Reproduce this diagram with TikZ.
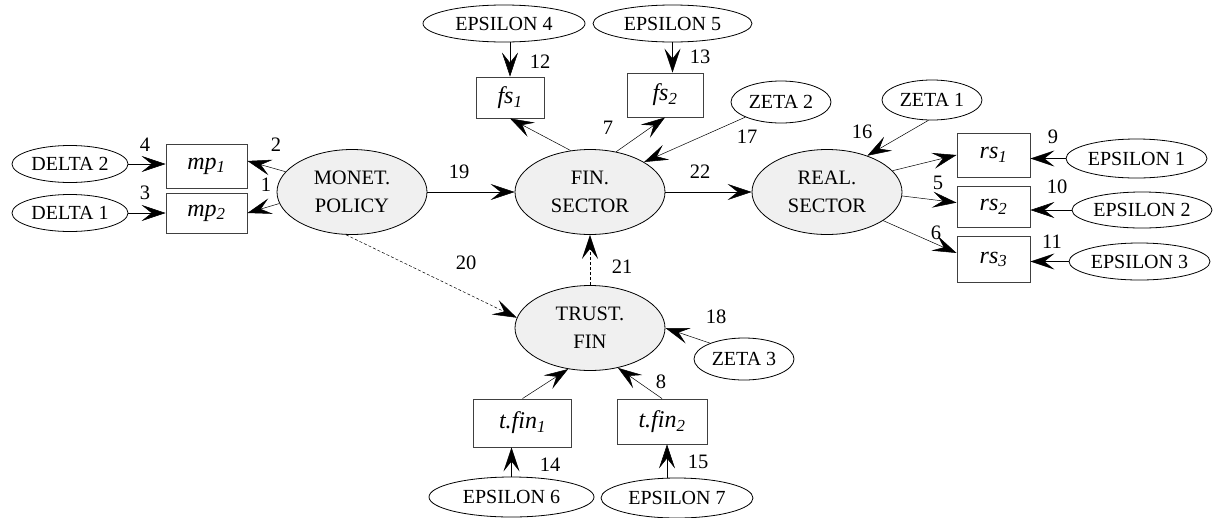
\documentclass[tikz,border=0pt]{standalone}
\usepackage{fontspec}
\setmainfont{Liberation Serif}
\usetikzlibrary{arrows.meta,calc,shapes.geometric}

\begin{document}
\begin{tikzpicture}[x=1pt,y=-1pt,
  latent/.style={ellipse, draw=black, line width=0.8pt, fill=black!6,
    minimum width=150pt, minimum height=85pt, inner sep=0pt, align=center,
    font=\fontsize{20.5}{28}\selectfont},
  err/.style={ellipse, draw=black, line width=0.8pt, fill=white,
    minimum height=38pt, inner sep=0pt, font=\fontsize{20}{24}\selectfont},
  obs/.style={rectangle, draw=black!75, line width=0.9pt, fill=white, inner sep=0pt,
    font=\fontsize{24}{28}\selectfont\itshape},
  link/.style={-{Stealth[length=24pt,width=16pt,inset=10pt]}, line width=0.5pt, draw=black},
  dlink/.style={link, dash pattern=on 3pt off 2pt},
  num/.style={inner sep=0pt, font=\fontsize{20.5}{24}\selectfont}
]
\useasboundingbox (0,0) rectangle (1220,517);

% latent variables
\node[latent] (monet) at (352,192) {MONET.\\POLICY};
\node[latent] (fin)   at (590,192) {FIN.\\SECTOR};
\node[latent] (real)  at (827,192) {REAL.\\SECTOR};
\node[latent] (trust) at (590,328) {TRUST.\\FIN};

% observed indicators
\node[obs, minimum width=81pt, minimum height=44pt] (mp1) at (206.5,166) {mp\textsubscript{1}};
\node[obs, minimum width=81pt, minimum height=40pt] (mp2) at (206.5,213) {mp\textsubscript{2}};
\node[obs, minimum width=68pt, minimum height=41pt] (fs1) at (510,97.5) {fs\textsubscript{1}};
\node[obs, minimum width=76pt, minimum height=44pt] (fs2) at (665,95) {fs\textsubscript{2}};
\node[obs, minimum width=73pt, minimum height=44pt] (rs1) at (993.5,155) {rs\textsubscript{1}};
\node[obs, minimum width=73pt, minimum height=41pt] (rs2) at (993.5,206.5) {rs\textsubscript{2}};
\node[obs, minimum width=73pt, minimum height=46pt] (rs3) at (993.5,259.5) {rs\textsubscript{3}};
\node[obs, minimum width=98pt, minimum height=48pt] (t1) at (522.5,423) {t.fin\textsubscript{1}};
\node[obs, minimum width=90pt, minimum height=45pt] (t2) at (662,421.5) {t.fin\textsubscript{2}};

% error terms and disturbances
\node[err, minimum width=116pt, minimum height=37pt] (d2) at (70,164) {DELTA 2};
\node[err, minimum width=116pt, minimum height=37pt] (d1) at (70,213) {DELTA 1};
\node[err, minimum width=162pt, minimum height=37pt] (e4) at (504,23.5) {EPSILON 4};
\node[err, minimum width=159pt, minimum height=37pt] (e5) at (672.5,23.5) {EPSILON 5};
\node[err, minimum width=100pt, minimum height=42pt] (z2) at (781,102) {ZETA 2};
\node[err, minimum width=100pt, minimum height=40pt] (z1) at (932,100) {ZETA 1};
\node[err, minimum width=141pt, minimum height=39pt] (e1) at (1136.5,158.5) {EPSILON 1};
\node[err, minimum width=140pt, minimum height=36pt] (e2) at (1142,210) {EPSILON 2};
\node[err, minimum width=141pt, minimum height=37pt] (e3) at (1139.5,261.5) {EPSILON 3};
\node[err, minimum width=100pt, minimum height=42pt] (z3) at (744,359) {ZETA 3};
\node[err, minimum width=165pt, minimum height=40pt] (e6) at (511.5,497) {EPSILON 6};
\node[err, minimum width=152pt, minimum height=40pt] (e7) at (677,498) {EPSILON 7};

% measurement paths
\draw[link] (d2.east) -- (d2.east -| mp1.west);
\draw[link] (d1.east) -- (d1.east -| mp2.west);
\draw[link] (monet.163) -- (mp1.7);
\draw[link] (monet.189) -- (mp2.east);
\draw[link] (fin.115) -- (fs1.south);
\draw[link] (fin.57) -- (fs2.south);
\draw[link] (fs1.north |- e4.south) -- (fs1.north);
\draw[link] (e5.south) -- (e5.south |- fs2.north);
\draw[link] (real.18) -- (rs1.west);
\draw[link] (real.357) -- (rs2.174);
\draw[link] (real.333) -- (rs3.170);
\draw[link] (e1.west) -- (e1.west -| rs1.east);
\draw[link] (e2.west) -- (e2.west -| rs2.east);
\draw[link] (e3.west) -- (e3.west -| rs3.east);
\draw[link] (t1.north) -- (trust.242);
\draw[link] (t2.north) -- (trust.305);
\draw[link] (e6.north) -- (e6.north |- t1.south);
\coordinate (t2in) at ($(t2.south)+(5,0)$);
\draw[link] (t2in |- e7.north) -- (t2in);

% structural paths
\draw[link] (monet.east) -- (fin.west);
\draw[link] (fin.east) -- (real.west);
\draw[dlink] (monet.262) -- (trust.172);
\draw[dlink] (trust.north) -- (trust.north |- fin.south);
\draw[link] (z2.203) -- (fin.29);
\draw[link] (z1.260) -- (real.42);
\draw[link] (z3.155) -- (trust.east);

% path numbers
\node[num] (n1)  at (266,185) {1};
\node[num] (n2)  at (276,145) {2};
\node[num] (n3)  at (145,193) {3};
\node[num] (n4)  at (145,145) {4};
\node[num] (n5)  at (938,183) {5};
\node[num] (n6)  at (936,233) {6};
\node[num] (n7)  at (608,128) {7};
\node[num] (n8)  at (661,382) {8};
\node[num] (n9)  at (1053,137) {9};
\node[num] (n10) at (1057,187) {10};
\node[num] (n11) at (1052,242) {11};
\node[num] (n12) at (540,62) {12};
\node[num] (n13) at (700,57) {13};
\node[num] (n14) at (550,465) {14};
\node[num] (n15) at (698,462) {15};
\node[num] (n16) at (862,132) {16};
\node[num] (n17) at (747,137) {17};
\node[num] (n18) at (716,317) {18};
\node[num] (n19) at (459,172) {19};
\node[num] (n20) at (466,263) {20};
\node[num] (n21) at (622,267) {21};
\node[num] (n22) at (700,172) {22};
\end{tikzpicture}
\end{document}
